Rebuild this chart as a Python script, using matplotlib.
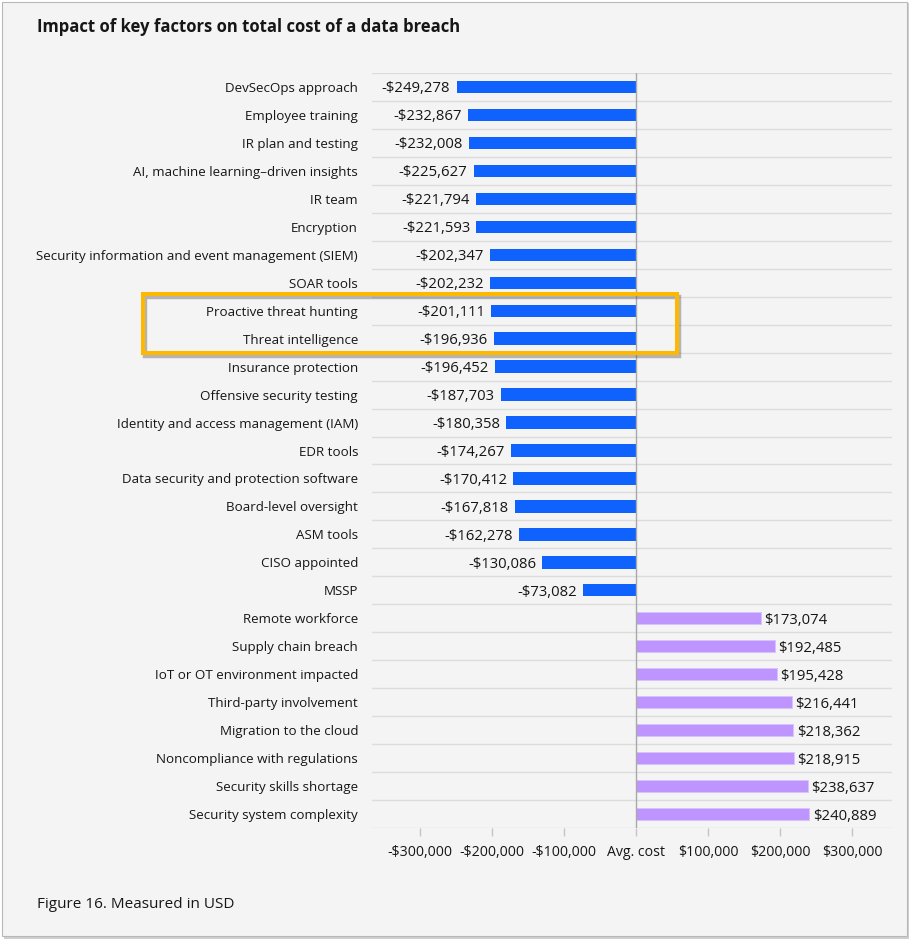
import matplotlib
matplotlib.use("Agg")
import matplotlib.pyplot as plt
from matplotlib.patches import Rectangle

categories = [
    "DevSecOps approach", "Employee training", "IR plan and testing",
    "AI, machine learning–driven insights", "IR team", "Encryption",
    "Security information and event management (SIEM)", "SOAR tools",
    "Proactive threat hunting", "Threat intelligence", "Insurance protection",
    "Offensive security testing", "Identity and access management (IAM)",
    "EDR tools", "Data security and protection software", "Board-level oversight",
    "ASM tools", "CISO appointed", "MSSP",
    "Remote workforce", "Supply chain breach", "IoT or OT environment impacted",
    "Third-party involvement", "Migration to the cloud",
    "Noncompliance with regulations", "Security skills shortage",
    "Security system complexity",
]
values = [
    -249278, -232867, -232008, -225627, -221794, -221593, -202347, -202232,
    -201111, -196936, -196452, -187703, -180358, -174267, -170412, -167818,
    -162278, -130086, -73082,
    173074, 192485, 195428, 216441, 218362, 218915, 238637, 240889,
]
tick_values = [-300000, -200000, -100000, 0, 100000, 200000, 300000]
tick_labels = ["-$300,000", "-$200,000", "-$100,000", "Avg. cost",
               "$100,000", "$200,000", "$300,000"]
highlighted = ["Proactive threat hunting", "Threat intelligence"]

FONT = ["Open Sans", "DejaVu Sans"]
plt.rcParams["font.family"] = FONT

W, H = 910, 939
BG = "#f4f4f4"
BLUE = "#0f62fe"
PURPLE = "#be95ff"
TXT = "#161616"

fig = plt.figure(figsize=(W / 100, H / 100), dpi=100)
fig.patch.set_facecolor("white")

# card with border and shadow
fig.patches.append(Rectangle((4 / W, 0), 905 / W, 936 / H, transform=fig.transFigure,
                             facecolor="#cfcfcf", edgecolor="none", zorder=-3))
fig.patches.append(Rectangle((2 / W, 3 / H), 905 / W, 934 / H, transform=fig.transFigure,
                             facecolor=BG, edgecolor="#b8b8b8", linewidth=0.8, zorder=-2))

ax_left, ax_right, ax_top, ax_bottom = 372, 892, 73, 828
ax = fig.add_axes([ax_left / W, (H - ax_bottom) / H,
                   (ax_right - ax_left) / W, (ax_bottom - ax_top) / H])
ax.set_zorder(1)
ax.set_facecolor("none")

n = len(categories)
y = list(range(n))
colors = [BLUE if v < 0 else PURPLE for v in values]
ax.barh(y, values, height=0.44, color=colors, zorder=3,
        edgecolor=["none" if v < 0 else "#d9c2ff" for v in values], linewidth=0.6)

for yi, v in zip(y, values):
    lbl = ("-$" if v < 0 else "$") + f"{abs(v):,}"
    ax.annotate(lbl, (v, yi), xytext=(-4.5 if v < 0 else 2.5, 0), textcoords="offset points",
                ha="right" if v < 0 else "left", va="center_baseline", fontsize=10.7, color=TXT)

ax.set_ylim(n - 0.5, -0.5)
ax.set_xlim(-(636 - ax_left) / 72 * 100000, (ax_right - 636) / 72 * 100000)

for b in range(n + 1):
    ax.axhline(b - 0.5, color="#dcdcdc", linewidth=1, zorder=1)
ax.axvline(0, color="#a8a8a8", linewidth=1, zorder=4)

ax.set_yticks(y)
ax.set_yticklabels(categories, fontsize=9.6, color=TXT)
ax.tick_params(axis="y", length=0, pad=10)
ax.set_xticks(tick_values)
ax.set_xticklabels(tick_labels, fontsize=10.2, color=TXT)
ax.tick_params(axis="x", length=6, width=1, color="#c6c6c6", pad=6)
for s in ax.spines.values():
    s.set_visible(False)

fig.text(37 / W, 1 - 27 / H, "Impact of key factors on total cost of a data breach",
         fontsize=12.0, fontweight="bold", color=TXT, ha="left", va="center")
fig.text(37 / W, 1 - 905 / H, "Figure 16. Measured in USD",
         fontsize=11.0, color=TXT, ha="left", va="center")

# highlight box with shadow
bx0, bx1, by0, by1 = 143, 677, 294, 353
fig.patches.append(Rectangle(((bx0 + 2) / W, (H - by1 - 2.5) / H), (bx1 - bx0) / W, (by1 - by0) / H,
                             transform=fig.transFigure, fill=False, edgecolor="#555555",
                             linewidth=3.2, alpha=0.4, zorder=5))
fig.patches.append(Rectangle((bx0 / W, (H - by1) / H), (bx1 - bx0) / W, (by1 - by0) / H,
                             transform=fig.transFigure, fill=False, edgecolor="#ffb800",
                             linewidth=2.9, zorder=6))

fig.savefig("out.png", dpi=100, facecolor=fig.get_facecolor())
